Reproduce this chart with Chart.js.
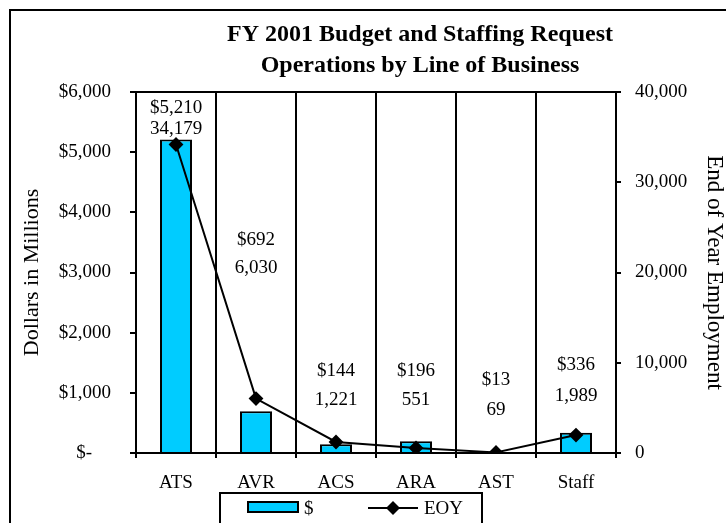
<!DOCTYPE html>
<html lang="en">

<head>
  <meta charset="UTF-8">
  <title>FY 2001 Budget and Staffing Request</title>
  <style>
    body {
      margin: 0;
      background: #fff;
    }

    #grafico {
      display: block;
    }
  </style>
</head>

<body>
  <canvas id="grafico" width="726" height="523"></canvas>

  <script src="https://cdn.jsdelivr.net/npm/chart.js"></script>
  <script>
    // linhas de negocio e valores do pedido FY 2001
    const categorias = ["ATS", "AVR", "ACS", "ARA", "AST", "Staff"];
    const dolares = [5210, 692, 144, 196, 13, 336];       // milhoes de dolares
    const empregados = [34179, 6030, 1221, 551, 69, 1989]; // fim do ano

    // altura dos rotulos (em unidades do eixo de dolares)
    const alturaRotuloDolar = [5730, 3540, 1363, 1363, 1213, 1463];
    const alturaRotuloEmpregados = [5380, 3075, 881, 881, 715, 947];

    const fonte = '"Liberation Serif", "Times New Roman", serif';
    const ciano = '#00CCFF';

    function formatarDolar(v) {
      if (v === 0) return '$-\u2007\u2007';
      return '$' + v.toLocaleString('en-US');
    }

    const molduraETitulo = {
      id: 'molduraETitulo',
      afterDraw(chart) {
        const ctx = chart.ctx;
        const area = chart.chartArea;
        ctx.save();
        ctx.strokeStyle = '#000';
        ctx.lineWidth = 2;

        // moldura externa
        ctx.beginPath();
        ctx.moveTo(10, 530);
        ctx.lineTo(10, 10);
        ctx.lineTo(730, 10);
        ctx.stroke();

        // topo da area do grafico
        ctx.beginPath();
        ctx.moveTo(area.left - 6, area.top);
        ctx.lineTo(area.right + 4, area.top);
        ctx.stroke();

        // titulo
        ctx.fillStyle = '#000';
        ctx.font = 'bold 24px ' + fonte;
        ctx.textAlign = 'center';
        ctx.textBaseline = 'middle';
        ctx.fillText('FY 2001 Budget and Staffing Request', 420, 35);
        ctx.fillText('Operations by Line of Business', 420, 66);

        // rotulos de valores
        const x = chart.scales.x;
        const y = chart.scales.y;
        ctx.font = '19px ' + fonte;
        categorias.forEach((c, i) => {
          const px = x.getPixelForValue(i);
          ctx.fillText(formatarDolar(dolares[i]), px, y.getPixelForValue(alturaRotuloDolar[i]));
          ctx.fillText(empregados[i].toLocaleString('en-US'), px, y.getPixelForValue(alturaRotuloEmpregados[i]));
        });

        // legenda
        const dsBarra = chart.data.datasets[0];
        const dsLinha = chart.data.datasets[1];
        ctx.strokeRect(220, 493, 262, 40);

        ctx.fillStyle = dsBarra.backgroundColor;
        ctx.fillRect(248, 502, 50, 10);
        ctx.strokeRect(248, 502, 50, 10);

        ctx.beginPath();
        ctx.moveTo(368, 508);
        ctx.lineTo(418, 508);
        ctx.strokeStyle = dsLinha.borderColor;
        ctx.stroke();
        ctx.beginPath();
        ctx.moveTo(393, 501);
        ctx.lineTo(400, 508);
        ctx.lineTo(393, 515);
        ctx.lineTo(386, 508);
        ctx.closePath();
        ctx.fillStyle = '#000';
        ctx.fill();

        ctx.textAlign = 'left';
        ctx.fillText(dsBarra.label, 304, 509);
        ctx.fillText(dsLinha.label, 424, 509);
        ctx.restore();
      }
    };

    new Chart(document.getElementById('grafico'), {
      data: {
        labels: categorias,
        datasets: [
          {
            type: 'bar',
            label: '$',
            data: dolares,
            yAxisID: 'y',
            backgroundColor: ciano,
            borderColor: '#000',
            borderWidth: 2,
            barPercentage: 0.4,
            categoryPercentage: 1,
            order: 1
          },
          {
            type: 'line',
            label: 'EOY',
            data: empregados,
            yAxisID: 'y1',
            borderColor: '#000',
            borderWidth: 2,
            pointStyle: 'rectRot',
            pointRadius: 6,
            pointBackgroundColor: '#000',
            pointBorderColor: '#000',
            tension: 0,
            order: 0
          }
        ]
      },
      options: {
        responsive: false,
        animation: false,
        layout: { padding: { top: 92, left: 0, right: 0, bottom: 0 } },
        plugins: {
          legend: { display: false },
          title: { display: false },
          tooltip: { enabled: false }
        },
        scales: {
          x: {
            grid: { offset: true, color: '#000', lineWidth: 2, tickLength: 5 },
            border: { color: '#000', width: 2 },
            ticks: { color: '#000', font: { family: fonte, size: 19 }, padding: 14 },
            afterFit: (escala) => { escala.height = 70; }
          },
          y: {
            position: 'left',
            min: 0,
            max: 6000,
            ticks: {
              stepSize: 1000,
              color: '#000',
              font: { family: fonte, size: 19 },
              padding: 19,
              callback: (v) => formatarDolar(v)
            },
            grid: { drawOnChartArea: false, color: '#000', lineWidth: 2, tickLength: 6 },
            border: { color: '#000', width: 2 },
            title: {
              display: true,
              text: 'Dollars in Millions',
              color: '#000',
              font: { family: fonte, size: 22 },
              padding: { top: 19, bottom: 0 }
            },
            afterFit: (escala) => { escala.width = 136; }
          },
          y1: {
            position: 'right',
            min: 0,
            max: 40000,
            ticks: {
              stepSize: 10000,
              color: '#000',
              font: { family: fonte, size: 19 },
              padding: 14,
              callback: (v) => v.toLocaleString('en-US')
            },
            grid: { drawOnChartArea: false, color: '#000', lineWidth: 2, tickLength: 5 },
            border: { color: '#000', width: 2 },
            title: {
              display: true,
              text: 'End of Year Employment',
              color: '#000',
              font: { family: fonte, size: 23, lineHeight: 1 },
              padding: { top: 0, bottom: -1 }
            },
            afterFit: (escala) => { escala.width = 110; }
          }
        }
      },
      plugins: [molduraETitulo]
    });
  </script>
</body>

</html>
